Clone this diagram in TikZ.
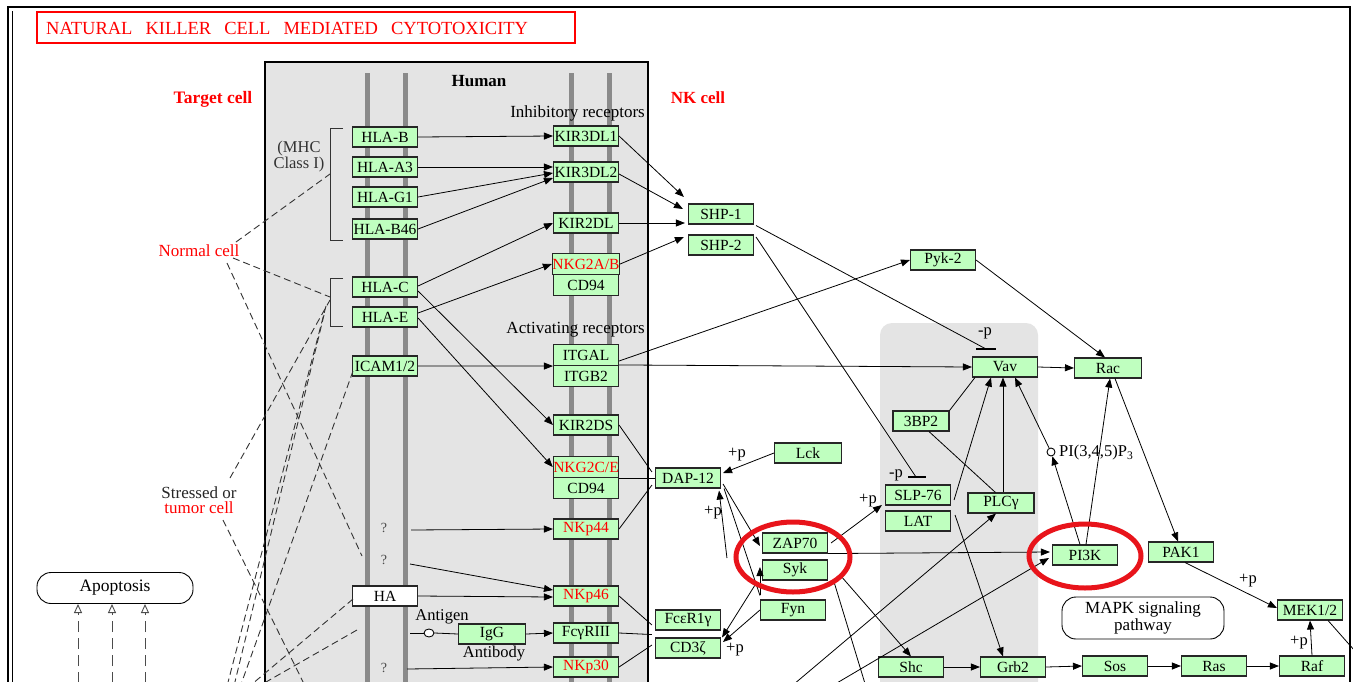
\documentclass[tikz,border=0pt]{standalone}
\usepackage{fontspec}
\setmainfont{Liberation Serif}
\usetikzlibrary{arrows.meta,calc,shapes.geometric}
\definecolor{genefill}{HTML}{BFFFBF}
\definecolor{boxgray}{HTML}{E4E4E4}
\definecolor{memb}{HTML}{8A8A8A}
\definecolor{circred}{HTML}{E8141B}
\begin{document}
\begin{tikzpicture}[x=1pt,y=-1pt,
  gene/.style={draw=black!85, fill=genefill, minimum width=65pt, minimum height=20pt, inner sep=0pt, line width=1.1pt, font=\fontsize{15.5}{15.5}\selectfont},
  lbl/.style={inner sep=0pt, font=\fontsize{17}{17}\selectfont},
  small/.style={inner sep=0pt, font=\fontsize{16.5}{16.5}\selectfont},
  arr/.style={-{Triangle[length=9pt,width=7pt]}, line width=0.8pt},
  ln/.style={line width=0.8pt},
  dsh/.style={dash pattern=on 7pt off 4pt, line width=0.9pt, black!80},
  oarr/.style={dash pattern=on 11pt off 6pt, line width=0.9pt, black!70, -{Triangle[open,length=9pt,width=8pt,line width=0.9pt]}},
  membl/.style={memb, line width=5pt},
  rbox/.style={draw, rounded corners=14pt, line width=0.9pt}
]
\useasboundingbox (0,0) rectangle (1353,681);
\fill[white] (0,0) rectangle (1353,681);
% frame
\draw[line width=1.6pt] (8,7) rectangle (1350,720);
\draw[line width=0.8pt] (12,11) -- (12,720);
% title
\draw[red, line width=1.6pt] (37,12) rectangle (575,43);
\node[anchor=west, inner sep=0pt, text=red, font=\fontsize{18.5}{18.5}\selectfont] (title) at (46,28) {NATURAL\hspace{13pt}KILLER\hspace{13pt}CELL\hspace{13pt}MEDIATED\hspace{13pt}CYTOTOXICITY};
% human box
\fill[boxgray] (265,62) rectangle (648,720);
\draw[line width=2pt] (265,720) -- (265,62) -- (648,62) -- (648,720);
\node[inner sep=0pt, font=\bfseries\fontsize{17}{17}\selectfont] (human) at (479,81) {Human};
% gray region right
\fill[boxgray, rounded corners=12pt] (880,323) rectangle (1038,720);
% membranes
\foreach \mx in {367,405,571,609} \draw[membl] (\mx,73) -- (\mx,720);
% labels
\node[inner sep=0pt, text=red, font=\bfseries\fontsize{17.5}{17.5}\selectfont] (target) at (213,99) {Target cell};
\node[inner sep=0pt, text=red, font=\bfseries\fontsize{17}{17}\selectfont] (nkcell) at (698,98) {NK cell};
\node[lbl, text=red] (normal) at (199,251) {Normal cell};
\node[lbl, align=center, text=black!85, font=\fontsize{17}{14.5}\selectfont] (stressed) at (199,500) {Stressed or\\\textcolor{red}{tumor cell}};
\node[lbl, align=center, text=black!80, font=\fontsize{16.5}{14}\selectfont] (mhc) at (299,157) {(MHC\\Class I)};
\node[lbl, anchor=east] (inhib) at (645,113) {Inhibitory receptors};
\node[lbl, anchor=east] (activ) at (645,330) {Activating receptors};
\node[lbl] (infected) at (205,690) {Infected cell};
% brackets
\draw[line width=0.9pt, black!80] (343,128) -- (330,128) -- (330,240) -- (343,240);
\draw[line width=0.9pt, black!80] (343,278) -- (330,278) -- (330,326) -- (343,326);
% left genes
\node[gene] (hlab) at (385,137) {HLA-B};
\node[gene] (hlaa3) at (385,167) {HLA-A3};
\node[gene] (hlag1) at (385,197) {HLA-G1};
\node[gene] (hlab46) at (385,229) {HLA-B46};
\node[gene] (hlac) at (385,287) {HLA-C};
\node[gene] (hlae) at (385,317) {HLA-E};
\node[gene] (icam) at (385,366) {ICAM1/2};
\node[gene, fill=white] (ha) at (385,596) {HA};
\node[small, text=black!70, font=\fontsize{14}{14}\selectfont] (q1) at (384,528) {?};
\node[small, text=black!70, font=\fontsize{14}{14}\selectfont] (q2) at (384,560) {?};
\node[small, text=black!70, font=\fontsize{14}{14}\selectfont] (q3) at (384,668) {?};
% right genes
\node[gene] (kir3dl1) at (586,136) {KIR3DL1};
\node[gene] (kir3dl2) at (586,172) {KIR3DL2};
\node[gene] (kir2dl) at (586,223) {KIR2DL};
\node[gene, text=red, minimum height=21pt] (nkg2ab) at (586,264) {NKG2A/B};
\node[gene, minimum height=21pt] (cd94a) at (586,285) {CD94};
\node[gene, minimum height=21pt] (itgal) at (586,355) {ITGAL};
\node[gene, minimum height=21pt] (itgb2) at (586,376) {ITGB2};
\node[gene] (kir2ds) at (586,425) {KIR2DS};
\node[gene, text=red, minimum height=21pt] (nkg2ce) at (586,467) {NKG2C/E};
\node[gene, minimum height=21pt] (cd94b) at (586,488) {CD94};
\node[gene, text=red] (nkp44) at (586,529) {NKp44};
\node[gene, text=red] (nkp46) at (586,596) {NKp46};
\node[gene] (fcgr3) at (586,633) {FcγRIII};
\node[gene, text=red] (nkp30) at (586,667) {NKp30};
\node[gene, minimum width=67pt] (igg) at (492,634) {IgG};
\node[small] (antigen) at (442,617) {Antigen};
\node[small] (antibody) at (494,654) {Antibody};
\node[draw, fill=white, ellipse, minimum width=10pt, minimum height=8pt, inner sep=0pt, line width=0.9pt] (agc) at (429,633) {};
% NK cell genes
\node[gene] (shp1) at (721,214) {SHP-1};
\node[gene] (shp2) at (721,245) {SHP-2};
\node[gene] (pyk2) at (943,260) {Pyk-2};
\node[gene] (vav) at (1005,367) {Vav};
\node[gene, minimum width=67pt] (rac) at (1108,368) {Rac};
\node[gene, minimum width=56pt] (bp3) at (921,421) {3BP2};
\node[gene] (slp76) at (918,495) {SLP-76};
\node[gene] (lat) at (918,521) {LAT};
\node[gene, minimum width=66pt] (plcg) at (1001,503) {PLCγ};
\node[gene] (dap12) at (688,478) {DAP-12};
\node[gene, minimum width=67pt] (lck) at (808,453) {Lck};
\node[gene] (zap70) at (795,543) {ZAP70};
\node[gene] (syk) at (795,570) {Syk};
\node[gene] (fyn) at (793,610) {Fyn};
\node[gene] (fceri) at (688,620) {FcεR1γ};
\node[gene] (cd3z) at (688,648) {CD3ζ};
\node[gene] (pi3k) at (1085,555) {PI3K};
\node[gene] (pak1) at (1181,552) {PAK1};
\node[gene] (mek) at (1310,610) {MEK1/2};
\node[gene] (shc) at (911,667) {Shc};
\node[gene] (grb2) at (1013,667) {Grb2};
\node[gene] (sos) at (1115,666) {Sos};
\node[gene] (ras) at (1214,666) {Ras};
\node[gene] (raf) at (1312,666) {Raf};
\node[draw, fill=white, circle, minimum size=8pt, inner sep=0pt, line width=0.9pt] (pip3) at (1051,452) {};
\node[small, anchor=west] (pip3l) at (1059,453) {PI(3,4,5)P\textsubscript{3}};
% other boxes
\node[rbox, minimum width=156pt, minimum height=31pt, inner sep=0pt, lbl, font=\fontsize{17.5}{17.5}\selectfont] (apop) at (115,588) {Apoptosis};
\node[rbox, minimum width=162pt, minimum height=42pt, inner sep=0pt, lbl, align=center, font=\fontsize{17}{14}\selectfont] (mapk) at (1143,618) {MAPK signaling\\pathway};
% coordinates
\coordinate (q1s) at (411,530);
\coordinate (q2s) at (410,564);
\coordinate (q3s) at (407,669);
\coordinate (ags) at (410,633);
\coordinate (vavbar) at (986,349);
\coordinate (slpbar) at (916,477);
\coordinate (mekout) at (1370,668);
\coordinate (sykout) at (870,700);
\coordinate (bl1) at (787,690);
\coordinate (bl2) at (825,690);
% edges in human box
\draw[arr] (hlab.east) -- (kir3dl1.west);
\draw[arr] (hlaa3.east) -- ($(kir3dl2.west)+(0,-5)$);
\draw[arr] (hlag1.east) -- ($(kir3dl2.west)+(0,1)$);
\draw[arr] (hlab46.east) -- ($(kir3dl2.west)+(0,6)$);
\draw[arr] ($(hlac.east)+(0,-1)$) -- (kir2dl.west);
\draw[arr] ($(hlac.east)+(0,4)$) -- (kir2ds.west);
\draw[arr] ($(hlae.east)+(0,-4)$) -- (nkg2ab.west);
\draw[arr] ($(hlae.east)+(0,1)$) -- (nkg2ce.west);
\draw[arr] (icam.east) -- (itgal.south west);
\draw[arr] (q1s) -- (nkp44.west);
\draw[arr] (q2s) -- ($(nkp46.west)+(0,-6)$);
\draw[arr] (ha.east) -- ($(nkp46.west)+(0,1)$);
\draw[ln] (ags) -- (agc.west);
\draw[ln] (agc.east) -- (igg.west);
\draw[arr] (igg.east) -- (fcgr3.west);
\draw[arr] (q3s) -- (nkp30.west);
% to SHP
\draw[arr] (kir3dl1.east) -- ($(shp1.west)+(-4,-17)$);
\draw[arr] ($(kir3dl2.east)+(0,2)$) -- ($(shp1.west)+(-5,-5)$);
\draw[arr] (kir2dl.east) -- ($(shp1.west)+(-3,9)$);
\draw[arr] (nkg2ab.east) -- ($(shp2.west)+(-4,-8)$);
\draw[arr] ($(itgal.east)+(0,6)$) -- (pyk2.west);
\draw[arr] (itgb2.north east) -- (vav.west);
\draw[ln] ($(shp1.south east)+(2,1)$) -- (vavbar);
\draw[line width=1.3pt] ($(vavbar)+(-10,0)$) -- ($(vavbar)+(10,0)$);
\node[small] (minp1) at (985,333) {-p};
\draw[ln] ($(shp2.east)+(2,-8)$) -- (slpbar);
\draw[line width=1.3pt] ($(slpbar)+(-8,0)$) -- ($(slpbar)+(10,0)$);
\node[small] (minp2) at (896,475) {-p};
\draw[arr] (pyk2.east) -- ($(rac.north)+(-3,0)$);
\draw[arr] (vav.east) -- (rac.west);
\draw[ln] (bp3.north east) -- ($(vav.south west)+(3,0)$);
\draw[ln] ($(bp3.south)+(8,0)$) -- ($(plcg.north west)+(28,0)$);
\draw[arr] ($(slp76.east)+(3,5)$) -- ($(vav.south)+(-14,0)$);
\draw[arr] ($(plcg.north)+(2,0)$) -- ($(vav.south)+(-2,0)$);
\draw[arr] (pip3) -- ($(vav.south)+(10,0)$);
\draw[arr] ($(pi3k.north)+(-5,0)$) -- (pip3);
\draw[arr] ($(pi3k.north)+(1,0)$) -- ($(rac.south)+(2,0)$);
\draw[arr] ($(rac.south)+(7,0)$) -- ($(pak1.north)+(-3,0)$);
\draw[arr] ($(pak1.south)+(4,0)$) -- ($(mek.west)+(0,-2)$);
\node[small] (pp1) at (1248,581) {+p};
\draw[arr] (raf.north) -- (mek.south);
\node[small] (pp2) at (1299,643) {+p};
\draw[ln] ($(mek.south east)+(-15,0)$) -- (mekout);
\draw[arr] (shc.east) -- (grb2.west);
\draw[arr] (grb2.east) -- (sos.west);
\draw[arr] (sos.east) -- (ras.west);
\draw[arr] (ras.east) -- (raf.west);
\draw[arr] ($(lat.east)+(4,-6)$) -- ($(grb2.north)+(-10,0)$);
\draw[arr] ($(zap70.south east)+(0,0)$) -- ($(pi3k.west)+(-2,-3)$);
\draw[arr] (bl1) -- ($(plcg.south)+(-5,0)$);
\draw[arr] (bl2) -- ($(pi3k.west)+(-3,3)$);
\draw[arr] ($(zap70.east)+(3,0)$) -- ($(slp76.west)+(-3,10)$);
\node[small] (pp3) at (868,501) {+p};
\draw[arr] ($(syk.east)+(12,5)$) -- (shc.north);
\draw[ln] ($(syk.east)+(6,12)$) -- (sykout);
% DAP-12 region
\draw[arr] (lck.west) -- ($(dap12.east)+(2,-5)$);
\node[small] (pp4) at (737,455) {+p};
\draw[arr] ($(dap12.east)+(2,6)$) -- ($(zap70.west)+(-2,3)$);
\draw[arr] ($(syk.west)+(-35,-12)$) -- ($(dap12.south east)+(-2,2)$);
\node[small] (pp5) at (713,513) {+p};
\draw[arr] ($(fyn.north west)+(0,-4)$) -- ($(syk.west)+(-2,-3)$);
\draw[ln] ($(dap12.south east)+(3,0)$) -- ($(fyn.north west)+(0,-4)$);
\draw[arr] (fyn.west) -- ($(cd3z.east)+(2,-6)$);
\draw[arr] ($(syk.south west)+(-6,3)$) -- ($(cd3z.north east)+(1,0)$);
\node[small] (pp6) at (735,650) {+p};
\draw[ln] (kir2ds.east) -- ($(dap12.west)+(-3,-6)$);
\draw[ln] ($(nkg2ce.east)+(0,11)$) -- (dap12.west);
\draw[ln] (nkp44.east) -- ($(dap12.west)+(-3,7)$);
\draw[ln] (nkp46.east) -- ($(fceri.west)+(-3,5)$);
\draw[ln] (fcgr3.east) -- ($(fceri.south west)+(-3,4)$);
\draw[ln] (nkp30.east) -- ($(cd3z.west)+(-3,-3)$);
% dashed lines left
\draw[dsh] (236,242) -- (330,174);
\draw[dsh] (233,258) -- (330,297);
\draw[dsh] (227,263) -- (362,556);
\draw[dsh] (230,478) -- (330,300);
\draw[dsh] (223,520) -- (312,700);
\draw[dsh] (326,306) -- (226,690);
\draw[dsh] (324,315) -- (233,690);
\draw[dsh] (353,371) -- (239,690);
\draw[dsh] (353,599) -- (245,690);
\draw[dsh] (357,630) -- (252,690);
% apoptosis arrows
\foreach \ax in {78,112,145} \draw[oarr] (\ax,700) -- (\ax,604);
% red ellipses
\draw[circred, line width=5pt] (793,557) ellipse [x radius=57, y radius=35];
\draw[circred, line width=5pt] (1085,556) ellipse [x radius=56, y radius=32];
\end{tikzpicture}
\end{document}
